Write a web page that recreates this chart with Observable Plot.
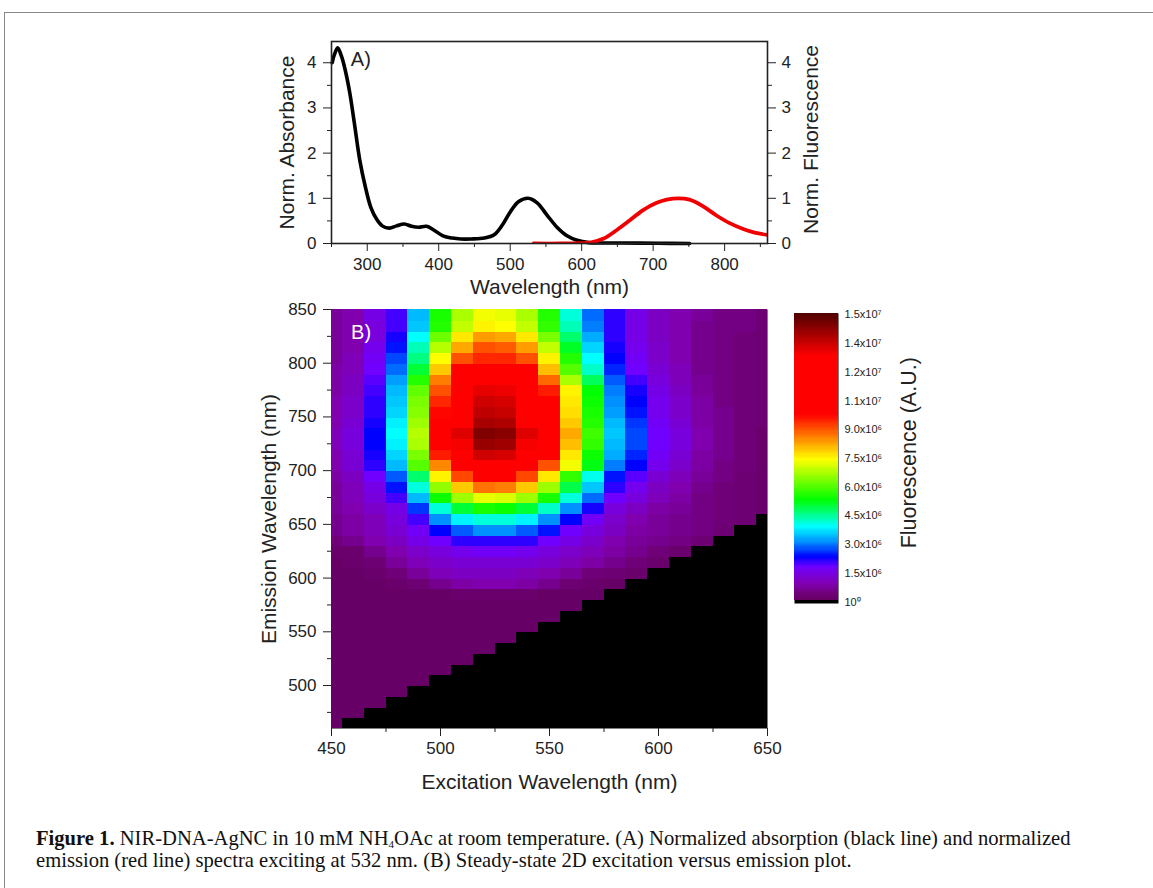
<!DOCTYPE html>
<html><head><meta charset="utf-8">
<script src="https://cdn.jsdelivr.net/npm/d3@7"></script>
<script src="https://cdn.jsdelivr.net/npm/@observablehq/plot@0.6"></script>
<style>
html,body{margin:0;padding:0;background:#fff;width:1153px;height:888px;overflow:hidden}
#page{position:relative;width:1153px;height:888px;overflow:hidden}
#border{position:absolute;left:4px;top:12px;width:1149px;height:880px;border-left:1.5px solid #8a8a8a;border-top:1.5px solid #8a8a8a;box-sizing:border-box}
.abs{position:absolute}
.cap{position:absolute;left:36px;font:20.6px "Liberation Serif",serif;color:#111;white-space:nowrap;line-height:22px}
.cap span.s{font-size:11px;position:relative;top:3px;line-height:0}
</style></head>
<body><div id="page">
<div id="border"></div>
<div id="a" class="abs" style="left:0;top:0"></div>
<div id="b" class="abs" style="left:0;top:298px"></div>
<div id="c" class="abs" style="left:785px;top:298px"></div>
<div class="cap" style="top:827px"><b>Figure 1.</b> NIR-DNA-AgNC in 10 mM NH<span class="s">4</span>OAc at room temperature. (A) Normalized absorption (black line) and normalized</div>
<div class="cap" style="top:849px">emission (red line) spectra exciting at 532 nm. (B) Steady-state 2D excitation versus emission plot.</div>
</div>
<script>
const absWavelength = [251,253.4,258.6,263.8,269,275.6,282,289.6,297.4,305,313,321,331,341,352,362,372,383,393,406,419,431,445,464,478,489.5,500.5,512,525,537.7,551.5,565.5,579.5,593.5,610,655,707,751];
const absValue = [4.0,4.15,4.33,4.15,3.85,3.33,2.66,1.84,1.25,0.8,0.54,0.39,0.34,0.39,0.43,0.38,0.36,0.38,0.30,0.17,0.12,0.10,0.10,0.12,0.20,0.42,0.71,0.93,1.0,0.90,0.63,0.36,0.17,0.07,0.02,0.012,0.006,0];
const emWavelength = [533,570,596,612,630.7,649.3,667.9,686,705,719,735,751,770,788.6,807,826,842,860];
const emValue = [0,0,0.006,0.02,0.11,0.30,0.52,0.74,0.90,0.97,1.0,0.97,0.82,0.62,0.45,0.32,0.24,0.19];
const excitation = [450,460,470,480,490,500,510,520,530,540,550,560,570,580,590,600,610,620,630,640,650];
const emissionTop = 854;
// fluorescence, in units of 1e5, rows from 854 nm down in 10 nm steps, columns from 450 nm excitation
const fluorescence = [
[7,9,15,20,34,55,67,73,72,67,56,41,29,21,15,11,9,7,5,5,3],
[7,9,15,20,34,55,67,73,72,67,56,41,29,21,15,11,9,7,5,5,3],
[7,9,14,20,35,56,69,75,74,69,57,43,30,21,15,11,9,6,5,5,3],
[7,9,14,22,39,62,76,83,82,76,63,47,33,21,15,11,9,6,5,4,3],
[7,9,16,24,43,68,82,90,89,83,69,51,36,22,16,12,9,6,5,4,3],
[7,10,17,27,46,74,90,94,94,90,75,56,39,23,17,12,9,6,5,4,3],
[8,10,18,29,50,79,98,102,102,98,80,60,42,25,18,13,10,6,5,4,3],
[8,11,19,32,56,86,104,118,117,104,88,67,48,28,20,14,10,7,5,4,3],
[8,11,20,34,61,90,116,131,130,116,95,75,53,30,22,15,11,7,5,4,3],
[9,12,21,35,63,94,120,134,133,120,99,76,54,31,23,16,12,8,5,4,3],
[9,12,21,36,64,97,124,136,135,124,102,77,55,32,24,16,12,8,6,4,3],
[9,13,22,38,66,100,127,139,138,127,106,79,56,34,26,17,13,8,6,4,3],
[10,14,23,39,68,108,132,144,143,132,110,82,58,35,27,18,14,9,6,4,2],
[10,14,23,38,67,106,129,141,140,129,108,80,57,34,27,18,14,9,6,4,2],
[9,13,22,36,63,95,123,134,133,123,100,76,54,33,25,17,13,8,6,4,2],
[9,13,21,34,60,85,117,128,127,117,90,73,52,30,23,16,12,8,5,4,2],
[8,11,18,28,47,75,91,100,99,91,76,57,40,24,19,13,10,7,5,3,2],
[7,10,15,24,41,65,79,87,86,79,66,49,35,21,16,11,9,6,4,3,2],
[7,10,14,20,34,54,66,72,71,66,55,41,29,18,14,10,8,5,4,3,2],
[7,9,12,15,26,41,50,55,54,50,42,31,22,14,11,8,7,5,4,3,2],
[6,8,10,14,20,31,38,41,41,38,31,23,17,12,9,7,6,5,4,3],
[6,8,10,13,17,23,28,31,31,28,24,18,14,11,8,7,6,5,3],
[4,6,9,11,15,18,21,21,21,21,18,15,12,9,7,6,5,3],
[2,2,6,9,12,14,16,17,17,16,14,12,10,8,6,4,2],
[1,2,3,7,10,12,13,13,13,13,12,10,8,6,4,2],
[1,1,2,4,7,10,11,11,11,10,9,7,4,3,2],
[1,1,1,2,3,6,8,9,9,8,6,3,2,1],
[1,1,1,1,1,1,2,2,2,2,1,1,1],
[1,1,1,1,1,1,1,1,1,1,1,1],
[1,1,1,1,1,1,1,1,1,1,1],
[1,1,1,1,1,1,1,1,1,1],
[1,1,1,1,1,1,1,1,1],
[1,1,1,1,1,1,1,1],
[1,1,1,1,1,1,1],
[1,1,1,1,1,1],
[1,1,1,1,1],
[1,1,1,1],
[1,1,1],
[1,1],
[1]
];
const colorStops = [1,4,9,18,23,31,39,53,74,97.5,128,150];
const colorRange = ["#660066","#700078","#8000b0","#7000ff","#0000ff","#0090ff","#00ffff","#00ff00","#ffff00","#ff0000","#ff0000","#500000"];
const barTickValues = [150,135,120,105,90,75,60,45,30,15,0];
const barTickLabels = ["1.5x10⁷","1.4x10⁷","1.2x10⁷","1.1x10⁷","9.0x10⁶","7.5x10⁶","6.0x10⁶","4.5x10⁶","3.0x10⁶","1.5x10⁶","10⁰"];

const FONT = '"Liberation Sans",Arial,sans-serif';
const ink = "#222";
const colorScale = {type:"linear",domain:colorStops,range:colorRange,clamp:true};
const baseStyle = {background:"transparent",fontFamily:FONT,color:ink};
const emptyFmt = () => "";
const intFmt = d => String(d);
const toRows = (xs,ys) => xs.map((x,i)=>({x,y:ys[i]}));
const titleSize = 21, tickFont = 17;

const cells = [];
fluorescence.forEach((row,r)=>row.forEach((v,c)=>{
  const em = emissionTop-10*r, ex = excitation[c];
  cells.push({x1:Math.max(ex-5,450),x2:Math.min(ex+5,650),y1:Math.max(em-5,460),y2:Math.min(em+5,850),v});
}));

// Panel A
document.getElementById("a").append(Plot.plot({
  width:1153,height:298,marginLeft:331,marginRight:386,marginTop:41,marginBottom:55,
  style:baseStyle,
  x:{domain:[250,860]},y:{domain:[0,4.47]},
  marks:[
    Plot.axisX({ticks:[300,400,500,600,700,800],tickSize:8,tickPadding:6,fontSize:tickFont,tickFormat:intFmt,label:null,stroke:ink}),
    Plot.axisX({ticks:[250,350,450,550,650,750,850],tickSize:4,tickFormat:emptyFmt,label:null,stroke:ink}),
    Plot.axisY({ticks:[0,1,2,3,4],tickSize:8,tickPadding:7,fontSize:tickFont,tickFormat:intFmt,label:null,stroke:ink}),
    Plot.axisY({ticks:[0.5,1.5,2.5,3.5],tickSize:4,tickFormat:emptyFmt,label:null,stroke:ink}),
    Plot.axisY({anchor:"right",ticks:[0,1,2,3,4],tickSize:8,tickPadding:6,fontSize:tickFont,tickFormat:intFmt,label:null,stroke:ink}),
    Plot.axisY({anchor:"right",ticks:[0.5,1.5,2.5,3.5],tickSize:4,tickFormat:emptyFmt,label:null,stroke:ink}),
    Plot.line(toRows(absWavelength,absValue),{x:"x",y:"y",stroke:"#000",strokeWidth:3.6,curve:"catmull-rom"}),
    Plot.line(toRows(emWavelength,emValue),{x:"x",y:"y",stroke:"#f00000",strokeWidth:3.8,curve:"catmull-rom",clip:true}),
    Plot.frame({stroke:ink,strokeWidth:1.6}),
    Plot.text(["A)"],{x:277,y:4.07,text:d=>d,textAnchor:"start",fontSize:20,fill:ink}),
    Plot.text(["Wavelength (nm)"],{frameAnchor:"bottom",dy:44,textAnchor:"middle",lineAnchor:"middle",text:d=>d,fontSize:titleSize,fill:ink}),
    Plot.text(["Norm. Absorbance"],{frameAnchor:"left",dx:-44,textAnchor:"middle",lineAnchor:"middle",rotate:-90,text:d=>d,fontSize:titleSize,fill:ink}),
    Plot.text(["Norm. Fluorescence"],{frameAnchor:"right",dx:44,dy:-3,textAnchor:"middle",lineAnchor:"middle",rotate:-90,text:d=>d,fontSize:titleSize,fill:ink})
  ]
}));

// Panel B
document.getElementById("b").append(Plot.plot({
  width:785,height:500,marginLeft:331,marginRight:18,marginTop:11,marginBottom:70,
  style:baseStyle,
  x:{domain:[450,650]},y:{domain:[460,850]},
  color:colorScale,
  marks:[
    Plot.frame({fill:"#000"}),
    Plot.rect(cells,{x1:"x1",x2:"x2",y1:"y1",y2:"y2",fill:"v",shapeRendering:"crispEdges"}),
    Plot.axisX({ticks:[450,500,550,600,650],tickSize:8,tickPadding:5,fontSize:tickFont,tickFormat:intFmt,label:null,stroke:ink}),
    Plot.axisX({ticks:[475,525,575,625],tickSize:4,tickFormat:emptyFmt,label:null,stroke:ink}),
    Plot.axisY({ticks:[500,550,600,650,700,750,800,850],tickSize:8,tickPadding:7,fontSize:tickFont,tickFormat:intFmt,label:null,stroke:ink}),
    Plot.axisY({ticks:[475,525,575,625,675,725,775,825],tickSize:4,tickFormat:emptyFmt,label:null,stroke:ink}),
    Plot.text(["B)"],{x:459,y:828.5,text:d=>d,textAnchor:"start",fontSize:20,fill:"#fff"}),
    Plot.text(["Excitation Wavelength (nm)"],{frameAnchor:"bottom",dy:54,textAnchor:"middle",lineAnchor:"middle",text:d=>d,fontSize:titleSize,fill:ink}),
    Plot.text(["Emission Wavelength (nm)"],{frameAnchor:"left",dx:-62,textAnchor:"middle",lineAnchor:"middle",rotate:-90,text:d=>d,fontSize:titleSize,fill:ink})
  ]
}));

// Colour bar
const levels = d3.range(0.7,150.7,0.6).map(v=>({y1:v,y2:v+0.6,v}));
document.getElementById("c").append(Plot.plot({
  width:150,height:320,marginLeft:9,marginRight:97,marginTop:15,marginBottom:15,
  style:baseStyle,
  x:{domain:[0,1],axis:null},y:{domain:[-0.7,150.7]},
  color:colorScale,
  marks:[
    Plot.frame({fill:"#000"}),
    Plot.rect(levels,{x1:0,x2:1,y1:"y1",y2:"y2",fill:"v",shapeRendering:"crispEdges"}),
    Plot.axisY({anchor:"right",ticks:barTickValues,tickSize:0,tickPadding:6,fontSize:11,tickFormat:d=>barTickLabels[barTickValues.indexOf(d)],label:null}),
    Plot.text(["Fluorescence (A.U.)"],{x:1,y:78,text:d=>d,rotate:-90,dx:71,fontSize:21.5,fill:ink})
  ]
}));
</script>
</body></html>
